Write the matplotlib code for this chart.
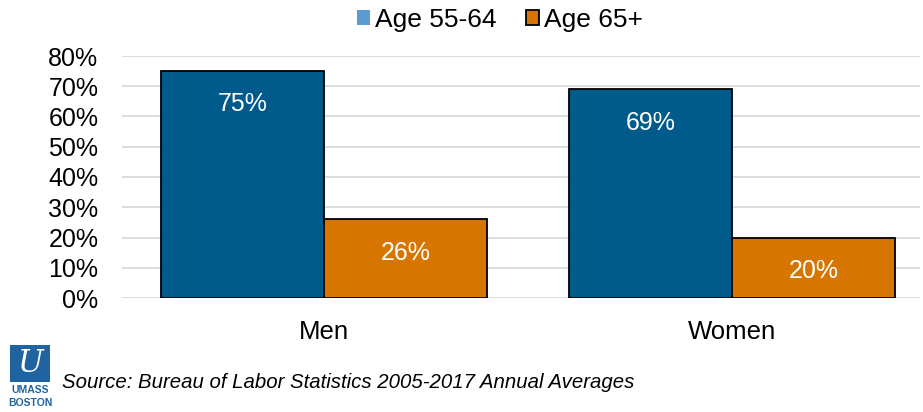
import matplotlib
matplotlib.use("Agg")
import matplotlib.pyplot as plt
import numpy as np
from matplotlib.patches import Patch, Rectangle

categories = ["Men", "Women"]
series_names = ["Age 55-64", "Age 65+"]
age_55_64 = [75, 69]
age_65_plus = [26, 20]
yticks = [0, 10, 20, 30, 40, 50, 60, 70, 80]
source_text = "Source: Bureau of Labor Statistics 2005-2017 Annual Averages"

plt.rcParams['font.family'] = ['Liberation Sans', 'DejaVu Sans']

W, H = 923, 412
fig = plt.figure(figsize=(W / 100, H / 100), dpi=100)
left, right, bottom, top = 122, 920, 298, 56
ax = fig.add_axes([left / W, 1 - bottom / H, (right - left) / W, (bottom - top) / H])

blue = "#005a8c"
orange = "#d67600"
x = np.arange(len(categories))
bw = 0.4
b1 = ax.bar(x - bw / 2, age_55_64, bw, color=blue, edgecolor="black", linewidth=1.3, zorder=3)
b2 = ax.bar(x + bw / 2, age_65_plus, bw, color=orange, edgecolor="black", linewidth=1.3, zorder=3)

for bars, vals in ((b1, age_55_64), (b2, age_65_plus)):
    for r, v in zip(bars, vals):
        ax.annotate(f"{v}%", (r.get_x() + r.get_width() / 2, v), xytext=(0, -24),
                    textcoords="offset points", ha="center", va="center",
                    color="white", fontsize=18, zorder=4)

ax.set_ylim(0, 80)
ax.set_xlim(-0.495, 1.461)
ax.set_yticks(yticks)
ax.set_yticklabels([f"{t}%" for t in yticks], fontsize=18)
ax.set_xticks(x)
ax.set_xticklabels(categories, fontsize=18.5)
ax.tick_params(axis="y", length=0, pad=17)
ax.tick_params(axis="x", length=0, pad=16)
ax.grid(axis="y", color="#d9d9d9", linewidth=1.3, zorder=0)
for s in ax.spines.values():
    s.set_visible(False)

handles = [Patch(facecolor="#5b9bd5", edgecolor="none"),
           Patch(facecolor=orange, edgecolor="black", linewidth=1.3)]
fig.legend(handles, series_names, loc="center", bbox_to_anchor=(500 / W, 1 - 20 / H),
           ncol=2, frameon=False, fontsize=19, handlelength=0.5, handleheight=0.5,
           handletextpad=0.2, columnspacing=1.1)

# logo
fig.patches.append(Rectangle((10 / W, 1 - 382 / H), 40 / W, 37 / H, transform=fig.transFigure,
                             facecolor="#1f64a0", edgecolor="none"))
fig.text(30 / W, 1 - 363 / H, "U", color="white", fontsize=22, ha="center", va="center",
         style="italic", family="DejaVu Serif")
fig.text(30 / W, 1 - 390 / H, "UMASS", color="#1f64a0", fontsize=7.5, ha="center", va="center",
         weight="bold")
fig.text(30 / W, 1 - 403 / H, "BOSTON", color="#1f64a0", fontsize=7.5, ha="center", va="center",
         weight="bold")
fig.text(62 / W, 1 - 383 / H, source_text, fontsize=14.7, style="italic", ha="left", va="center")

fig.savefig("out.png", dpi=100)
